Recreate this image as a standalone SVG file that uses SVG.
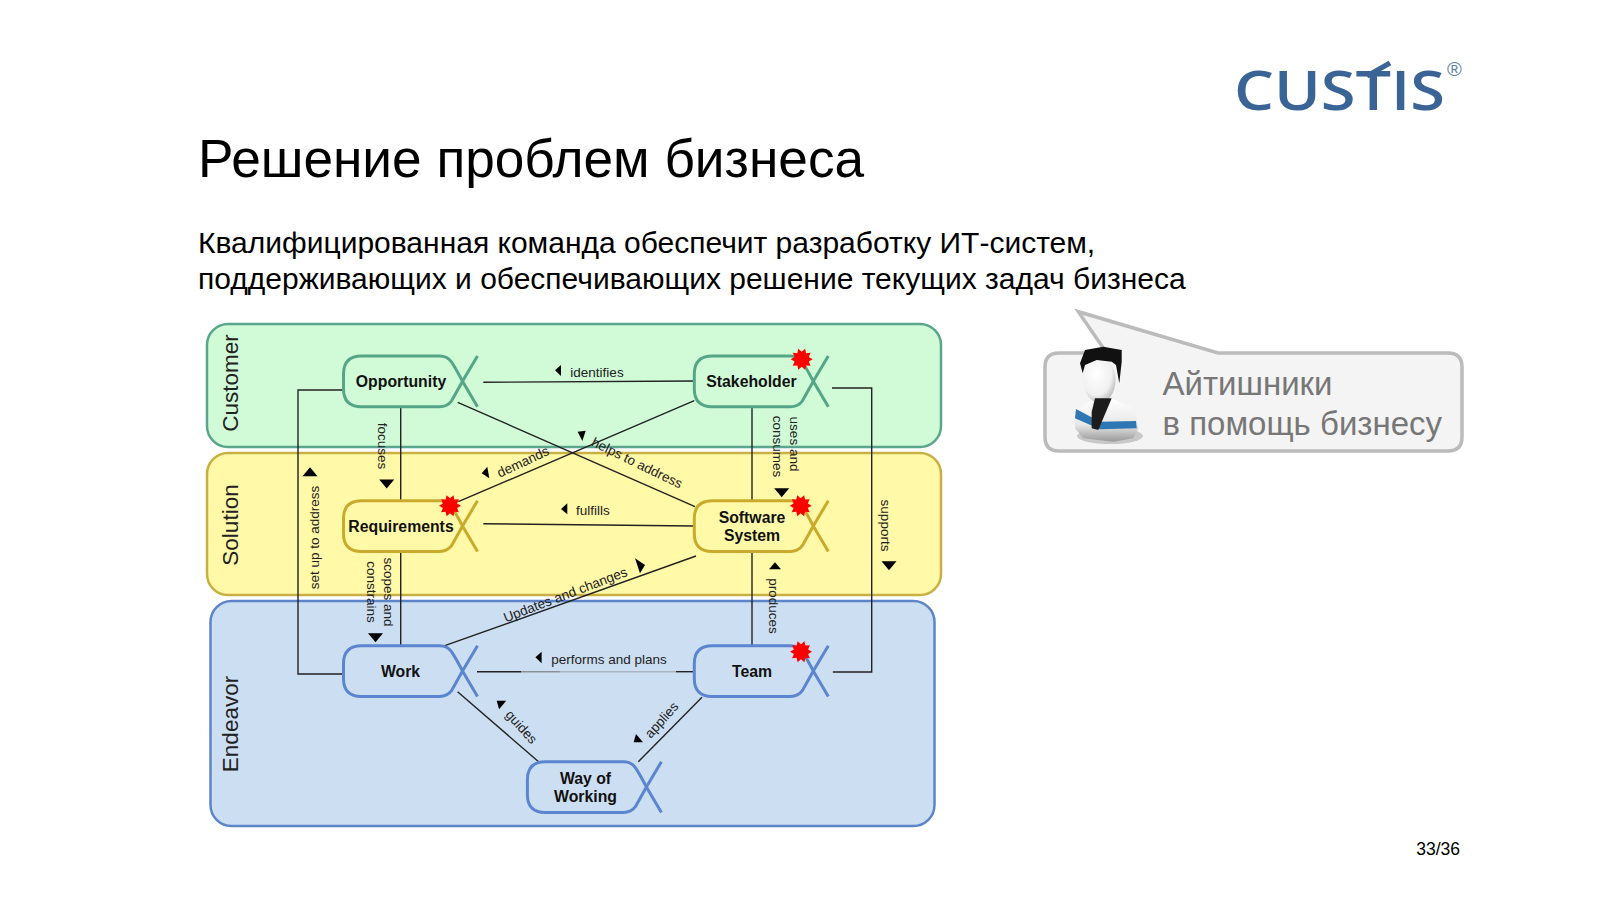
<svg xmlns="http://www.w3.org/2000/svg" xmlns:xlink="http://www.w3.org/1999/xlink" width="1600" height="900" viewBox="0 0 1600 900">
<style>
text{font-family:"Liberation Sans",Arial,sans-serif}
.lane{stroke-width:2.5}
.lt{font-size:22.5px;fill:#222;text-anchor:middle}
.nl{font-size:15.8px;font-weight:bold;fill:#111;text-anchor:middle}
.cl{font-size:13.5px;fill:#222;text-anchor:middle}
.c{fill:none;stroke:#222;stroke-width:1.4}
.ar{fill:#000}
.g{stroke:#55a688}.y{stroke:#c9aa2c}.b{stroke:#5b85cf}
.sh{fill:none;stroke-width:3}
.st{fill:#f00}
.cb{font-size:33px;fill:#777}
</style>
<defs>
<path id="alpha" class="sh" d="M134 50.7L119 25.3Q112 12 108 6Q104 0 96 0H18Q0 0 0 18V33Q0 50.7 18 50.7H96Q104 50.7 108 45Q112 38 119 25.3L134 0"/>
<polygon id="star" class="st" points="11,0 7.1,2.3 8.9,6.5 4.4,6.1 3.4,10.5 0,7.500 -3.4,10.5 -4.4,6.1 -8.9,6.5 -7.1,2.3 -11,0 -7.1,-2.3 -8.9,-6.5 -4.4,-6.1 -3.4,-10.5 0,-7.500 3.4,-10.5 4.4,-6.1 8.9,-6.5 7.1,-2.3"/>
<path id="tri" class="ar" d="M-7.5 -4.5H7.5L0 4.5Z"/>
<path id="tri2" class="ar" d="M-6 -3.5H6L0 3.5Z"/>
<radialGradient id="face" cx="0.4" cy="0.35" r="0.8"><stop offset="0" stop-color="#fff"/><stop offset="0.6" stop-color="#f0f0f0"/><stop offset="1" stop-color="#9a9a9a"/></radialGradient>
<linearGradient id="body" x1="0" y1="0" x2="0" y2="1"><stop offset="0" stop-color="#fff"/><stop offset="0.6" stop-color="#e8e8e8"/><stop offset="1" stop-color="#999"/></linearGradient>
</defs>

<rect width="1600" height="900" fill="#fff"/>
<text x="198" y="176.500" font-size="53.2" fill="#000">Решение проблем бизнеса</text>
<text x="198" y="253" font-size="30" fill="#000">Квалифицированная команда обеспечит разработку ИТ-систем,</text>
<text x="198" y="289" font-size="30" fill="#000">поддерживающих и обеспечивающих решение текущих задач бизнеса</text>
<text x="1460" y="855" font-size="17.5" fill="#000" text-anchor="end">33/36</text>

<g id="logo">
<text x="1234" y="110" font-size="54" font-weight="600" fill="#3a6496" textLength="211" lengthAdjust="spacingAndGlyphs" style="font-family:'Open Sans',sans-serif">CUSTIS</text>
<path d="M1367 76L1390 63" stroke="#3a6496" stroke-width="5" fill="none"/>
<text x="1447" y="76" font-size="20" fill="#5a7fa8">®</text>
</g>

<g id="lanes">
<rect id="lane-customer" class="lane" x="207" y="324" width="734" height="123" rx="21" fill="#d0fbd6" stroke="#5aa68c"/>
<rect id="lane-solution" class="lane" x="207" y="453" width="734" height="142" rx="21" fill="#fff9a8" stroke="#c9b042"/>
<rect id="lane-endeavor" class="lane" x="210.500" y="601" width="724" height="225" rx="21" fill="#ccdff2" stroke="#5b85c8"/>
<text class="lt" transform="translate(238,383) rotate(-90)">Customer</text>
<text class="lt" transform="translate(238,525) rotate(-90)">Solution</text>
<text class="lt" transform="translate(238,724) rotate(-90)">Endeavor</text>
</g>

<g id="connectors">
<path class="c" d="M483.300 382.300L694 381"/>
<path class="c" d="M343.500 390H298V674H343.400"/>
<path class="c" d="M400.700 406.700V500.700"/>
<path class="c" d="M457.700 402.300L695 506.700"/>
<path class="c" d="M694.300 400.700L458.300 501.700"/>
<path class="c" d="M483.300 523.700L694 526"/>
<path class="c" d="M752 406.700V500.700"/>
<path class="c" d="M832 388H871.700V672H832.800"/>
<path class="c" d="M400.700 551.700V645.700"/>
<path class="c" d="M696 556L444.800 645.700"/>
<path class="c" d="M752 551.700V645.700"/>
<path class="c" d="M477 671.700H521"/>
<path class="c" style="stroke:#8a9098" d="M521 671.700H560"/>
<path class="c" style="stroke:#aab4c0" d="M560 671.700H676"/>
<path class="c" d="M676 671.700H694"/>
<path class="c" d="M457.600 691.700L539.200 762.300"/>
<path class="c" d="M702 697.300L638.300 761.700"/>
</g>

<g id="connector-labels">
<text class="cl" x="597" y="377">identifies</text>
<text class="cl" transform="translate(377.500,446) rotate(90)">focuses</text>
<text class="cl" transform="translate(319,537.500) rotate(-90)">set up to address</text>
<text class="cl" transform="translate(525,466) rotate(-25)">demands</text>
<text class="cl" transform="translate(635,467) rotate(26)">helps to address</text>
<text class="cl" x="593" y="515">fulfills</text>
<text class="cl" transform="translate(790,444) rotate(90)">uses and</text>
<text class="cl" transform="translate(773,446.500) rotate(90)">consumes</text>
<text class="cl" transform="translate(881,525.500) rotate(90)">supports</text>
<text class="cl" transform="translate(769,606) rotate(90)">produces</text>
<text class="cl" transform="translate(384,592) rotate(90)">scopes and</text>
<text class="cl" transform="translate(367,592) rotate(90)">constrains</text>
<text class="cl" transform="translate(567,599) rotate(-21)">Updates and changes</text>
<text class="cl" x="609" y="664">performs and plans</text>
<text class="cl" transform="translate(518,730) rotate(48)">guides</text>
<text class="cl" transform="translate(665,723) rotate(-48)">applies</text>
<polygon class="ar" points="561,365 561,376 555,370.300"/>
<use href="#tri" transform="translate(386.700,484)"/>
<use href="#tri" transform="translate(310,471.700) rotate(180)"/>
<polygon class="ar" points="487.300,466.700 489.300,478.300 481.700,473.300"/>
<polygon class="ar" points="577.700,431.700 585.700,430.700 582.300,441"/>
<polygon class="ar" points="567.300,503.300 567.300,514.300 561,509"/>
<use href="#tri" transform="translate(781.700,492.700)"/>
<use href="#tri" transform="translate(889,565.700)"/>
<use href="#tri2" transform="translate(775,565.700) rotate(180)"/>
<use href="#tri" transform="translate(375.500,637.700)"/>
<polygon class="ar" points="635,558.300 645,565 640,573.300"/>
<polygon class="ar" points="541.600,651.700 541.600,663.300 535.400,657.300"/>
<polygon class="ar" points="496.700,700.700 506.200,700.700 499.100,709.300"/>
<polygon class="ar" points="636,734 643,742.300 633.600,742.300"/>
</g>

<g id="opportunity"><use href="#alpha" class="g" x="343.500" y="356"/><text class="nl" x="401" y="387">Opportunity</text></g>
<g id="stakeholder"><use href="#alpha" class="g" x="694.300" y="356"/><text class="nl" x="751.500" y="387">Stakeholder</text><use href="#star" x="801.700" y="359.300"/></g>
<g id="requirements"><use href="#alpha" class="y" x="343.500" y="500.700"/><text class="nl" x="401" y="532">Requirements</text><use href="#star" x="450" y="505.700"/></g>
<g id="software-system"><use href="#alpha" class="y" x="694.300" y="500.700"/><text class="nl" x="752" y="523">Software</text><text class="nl" x="752" y="541">System</text><use href="#star" x="800.700" y="505.700"/></g>
<g id="work"><use href="#alpha" class="b" x="343.500" y="645.700"/><text class="nl" x="400.500" y="677">Work</text></g>
<g id="team"><use href="#alpha" class="b" x="694.300" y="645.700"/><text class="nl" x="752" y="677">Team</text><use href="#star" x="801" y="651.700"/></g>
<g id="way-of-working"><use href="#alpha" class="b" x="527.400" y="761.700"/><text class="nl" x="585.500" y="784">Way of</text><text class="nl" x="585.500" y="802">Working</text></g>

<g id="callout">
<path d="M1059 353H1106.700L1078.300 311.700L1218 353H1448Q1462 353 1462 367V437Q1462 451 1448 451H1059Q1045 451 1045 437V367Q1045 353 1059 353Z" fill="#f4f4f4" stroke="#bbb" stroke-width="3.500"/>
<ellipse cx="1110" cy="436" rx="33" ry="8" fill="#aaa" opacity="0.6"/>
<path d="M1075 428.300Q1073 415 1078.300 408.300L1095 398.300H1111.700L1130 406.700Q1138 416 1138.300 428.300L1133.300 438.300L1113.300 441.700L1083.300 438.300Z" fill="url(#body)"/>
<path d="M1076 409L1100 421.700L1136 421L1136.700 428.300L1100 429.300L1075 418.300Z" fill="#2f77b4"/>
<ellipse cx="1099.500" cy="380" rx="16" ry="23" fill="url(#face)"/>
<path d="M1080 363.300L1085 350L1103.300 346.700L1121.700 350V361.700L1119.300 383.300L1116 365L1111.700 361.700L1096.700 360L1085 365L1082.700 373.300Z" fill="#111"/>
<path d="M1095 398.300H1111.700L1098.300 430L1091.700 428.300V411.700Z" fill="#1c1c1c"/>
<text class="cb" x="1162.500" y="395">Айтишники</text>
<text class="cb" x="1162.500" y="435">в помощь бизнесу</text>
</g>
</svg>
